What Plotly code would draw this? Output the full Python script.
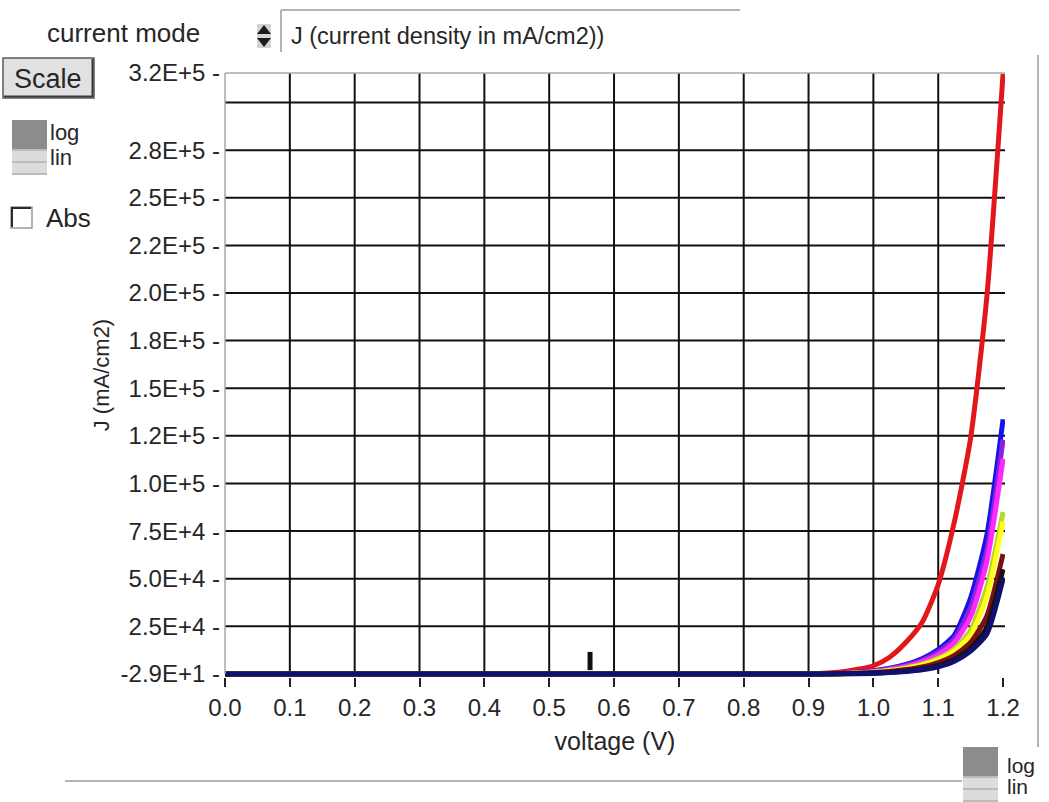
import plotly.graph_objects as go

# ---------------------------------------------------------------- data
voltage = [0.0, 0.9, 0.95, 1.0, 1.025, 1.05, 1.075, 1.1, 1.125, 1.15, 1.175, 1.2]

j_red     = [-29, -29, 1000, 4300, 8800, 16500, 27000, 47000, 80000, 124000, 198000, 315000]
j_blue    = [-29, -29, 300, 1700, 3000, 5000, 8000, 12800, 20500, 40000, 73000, 133700]
j_purple  = [-29, -29, 250, 1500, 2700, 4500, 7200, 11500, 18500, 35000, 65000, 123000]
j_magenta = [-29, -29, 200, 1300, 2400, 4000, 6400, 10000, 16500, 30000, 59000, 113000]
j_green   = [-29, -29, 150, 1000, 1900, 3200, 5100, 8200, 13000, 23000, 45500, 85000]
j_yellow  = [-29, -29, 130, 900, 1700, 2900, 4600, 7400, 12000, 20500, 40500, 80000]
j_maroon  = [-29, -29, 100, 700, 1300, 2300, 3700, 6000, 9800, 16500, 30500, 63000]
j_black   = [-29, -29, 80, 500, 900, 1600, 2600, 4300, 7600, 13500, 24500, 55000]
j_navy    = [-29, -29, 50, 300, 700, 1300, 2200, 3800, 6700, 12000, 21000, 50000]

series = [
    ("red", j_red, "#e3171b"),
    ("blue", j_blue, "#1414e8"),
    ("purple", j_purple, "#8a22e0"),
    ("magenta", j_magenta, "#ff28ff"),
    ("green", j_green, "#b8d629"),
    ("yellow", j_yellow, "#ffff1e"),
    ("maroon", j_maroon, "#7a1010"),
    ("black", j_black, "#141414"),
    ("navy", j_navy, "#12106e"),
]

# cursor marker on the graph
cursor_v = [0.563]
cursor_j = [6800]

x_ticks = [0.0, 0.1, 0.2, 0.3, 0.4, 0.5, 0.6, 0.7, 0.8, 0.9, 1.0, 1.1, 1.2]
x_labels = ["0.0", "0.1", "0.2", "0.3", "0.4", "0.5", "0.6", "0.7", "0.8", "0.9", "1.0", "1.1", "1.2"]
y_ticks = [-29, 25000, 50000, 75000, 100000, 125000, 150000, 175000, 200000,
           225000, 250000, 275000, 315500]
y_labels = ["-2.9E+1", "2.5E+4", "5.0E+4", "7.5E+4", "1.0E+5", "1.2E+5", "1.5E+5",
            "1.8E+5", "2.0E+5", "2.2E+5", "2.5E+5", "2.8E+5", "3.2E+5"]
y_grid = [25000, 50000, 75000, 100000, 125000, 150000, 175000, 200000,
          225000, 250000, 275000, 300000]
x_grid = [0.1, 0.2, 0.3, 0.4, 0.5, 0.6, 0.7, 0.8, 0.9, 1.0, 1.1]

# ---------------------------------------------------------------- geometry (pixels)
W, H = 1049, 802
L, R, T, B = 225, 1005, 73, 677
FONT = "Liberation Sans, Arial, sans-serif"
TXT = "#262626"


def fx(px):
    return (px - L) / (R - L)


def fy(py):
    return (B - py) / (B - T)


fig = go.Figure()

for name, js, col in series:
    fig.add_trace(go.Scatter(
        x=voltage, y=js, mode="lines", name=name,
        line=dict(color=col, width=5, shape="spline", smoothing=0.6),
        hoverinfo="skip", showlegend=False,
    ))

fig.add_trace(go.Scatter(
    x=cursor_v, y=cursor_j, mode="markers", showlegend=False, hoverinfo="skip",
    marker=dict(symbol="line-ns", size=13, line=dict(width=5, color="#101010")),
))

shapes = []
# grid
for g in y_grid:
    shapes.append(dict(type="line", xref="paper", yref="y", x0=0, x1=1, y0=g, y1=g,
                       line=dict(color="#111111", width=2), layer="below"))
for g in x_grid:
    shapes.append(dict(type="line", xref="x", yref="paper", x0=g, x1=g, y0=fy(674), y1=1,
                       line=dict(color="#111111", width=2), layer="below"))
# plot frame (top and left, grey)
shapes.append(dict(type="line", xref="paper", yref="paper", x0=0, x1=1, y0=1, y1=1,
                   line=dict(color="#a8a8a8", width=1.5)))
shapes.append(dict(type="line", xref="paper", yref="paper", x0=0, x1=0, y0=fy(674), y1=1,
                   line=dict(color="#a8a8a8", width=1.5)))

# outer panel lines
shapes.append(dict(type="line", xref="paper", yref="paper", x0=fx(1038), x1=fx(1038),
                   y0=fy(55), y1=fy(747), line=dict(color="#b4b4b4", width=2)))
shapes.append(dict(type="line", xref="paper", yref="paper", x0=fx(65), x1=fx(962),
                   y0=fy(781), y1=fy(781), line=dict(color="#b4b4b4", width=2)))
# mode selector frame
shapes.append(dict(type="line", xref="paper", yref="paper", x0=fx(281), x1=fx(740),
                   y0=fy(10), y1=fy(10), line=dict(color="#b4b4b4", width=2)))
shapes.append(dict(type="line", xref="paper", yref="paper", x0=fx(281), x1=fx(281),
                   y0=fy(10), y1=fy(52), line=dict(color="#b4b4b4", width=2)))

# spinner
shapes.append(dict(type="rect", xref="paper", yref="paper", x0=fx(257), x1=fx(271),
                   y0=fy(48), y1=fy(24), fillcolor="#d4d4d4", line=dict(width=0)))
shapes.append(dict(type="path", xref="paper", yref="paper",
                   path=f"M {fx(257)} {fy(34)} L {fx(271)} {fy(34)} L {fx(264)} {fy(25)} Z",
                   fillcolor="#1a1a1a", line=dict(width=0)))
shapes.append(dict(type="path", xref="paper", yref="paper",
                   path=f"M {fx(257)} {fy(38)} L {fx(271)} {fy(38)} L {fx(264)} {fy(47)} Z",
                   fillcolor="#1a1a1a", line=dict(width=0)))

# Scale button
shapes.append(dict(type="rect", xref="paper", yref="paper", x0=fx(3), x1=fx(94),
                   y0=fy(98), y1=fy(58), fillcolor="#e1e1e1",
                   line=dict(color="#5a5a5a", width=1.5)))
shapes.append(dict(type="line", xref="paper", yref="paper", x0=fx(4), x1=fx(93),
                   y0=fy(96.5), y1=fy(96.5), line=dict(color="#3a3a3a", width=2)))
shapes.append(dict(type="line", xref="paper", yref="paper", x0=fx(92.5), x1=fx(92.5),
                   y0=fy(59), y1=fy(97), line=dict(color="#3a3a3a", width=2)))


def log_lin_switch(x0, y0):
    out = [
        dict(type="rect", xref="paper", yref="paper", x0=fx(x0), x1=fx(x0 + 35),
             y0=fy(y0 + 29), y1=fy(y0), fillcolor="#8c8c8c", line=dict(width=0)),
        dict(type="rect", xref="paper", yref="paper", x0=fx(x0), x1=fx(x0 + 35),
             y0=fy(y0 + 55), y1=fy(y0 + 29), fillcolor="#dcdcdc", line=dict(width=0)),
    ]
    for yy in (y0 + 30, y0 + 42, y0 + 54):
        out.append(dict(type="line", xref="paper", yref="paper", x0=fx(x0), x1=fx(x0 + 35),
                        y0=fy(yy), y1=fy(yy), line=dict(color="#b0b0b0", width=1.5)))
    return out


shapes += log_lin_switch(12, 120)
shapes += log_lin_switch(963, 747)

# Abs checkbox
shapes.append(dict(type="rect", xref="paper", yref="paper", x0=fx(11), x1=fx(32),
                   y0=fy(228), y1=fy(207), fillcolor="#ffffff",
                   line=dict(color="#9a9a9a", width=1.5)))
shapes.append(dict(type="path", xref="paper", yref="paper",
                   path=f"M {fx(12)} {fy(227)} L {fx(12)} {fy(208)} L {fx(31)} {fy(208)}",
                   line=dict(color="#2a2a2a", width=2)))

annotations = []


def label(text, px, py, size=22, xanchor="left", angle=0):
    annotations.append(dict(text=text, x=fx(px), y=fy(py), xref="paper", yref="paper",
                            showarrow=False, xanchor=xanchor, yanchor="middle",
                            textangle=angle, font=dict(family=FONT, size=size, color=TXT)))


label("current mode", 123, 33, size=26, xanchor="center")
label("J (current density in mA/cm2))", 289, 36, size=23.5)
label("Scale", 48, 79, size=27, xanchor="center")
label("log", 48, 133, size=22)
label("lin", 48, 157, size=22)
label("Abs", 44, 218, size=26)
label("log", 1005, 765, size=21)
label("lin", 1005, 786, size=21)

fig.update_layout(
    width=W, height=H, autosize=False,
    margin=dict(l=L, r=W - R, t=T, b=H - B, pad=0),
    paper_bgcolor="white", plot_bgcolor="white",
    shapes=shapes, annotations=annotations,
    font=dict(family=FONT, color=TXT),
    xaxis=dict(
        range=[0, 1.203], tickvals=x_ticks, ticktext=x_labels,
        showgrid=False, zeroline=False, showline=False,
        ticks="outside", ticklen=9, tickwidth=2, tickcolor="#222222",
        tickfont=dict(family=FONT, size=24, color=TXT),
        title=dict(text="voltage (V)", font=dict(family=FONT, size=25, color=TXT), standoff=12),
    ),
    yaxis=dict(
        range=[-1600, 315500], tickvals=y_ticks, ticktext=[s + " -" for s in y_labels],
        showgrid=False, zeroline=False, showline=False, ticks="",
        tickfont=dict(family=FONT, size=24, color=TXT), ticklabelstandoff=4,
        title=dict(text="J (mA/cm2)", font=dict(family=FONT, size=22, color=TXT), standoff=4),
    ),
)

fig.write_html("out.html")
